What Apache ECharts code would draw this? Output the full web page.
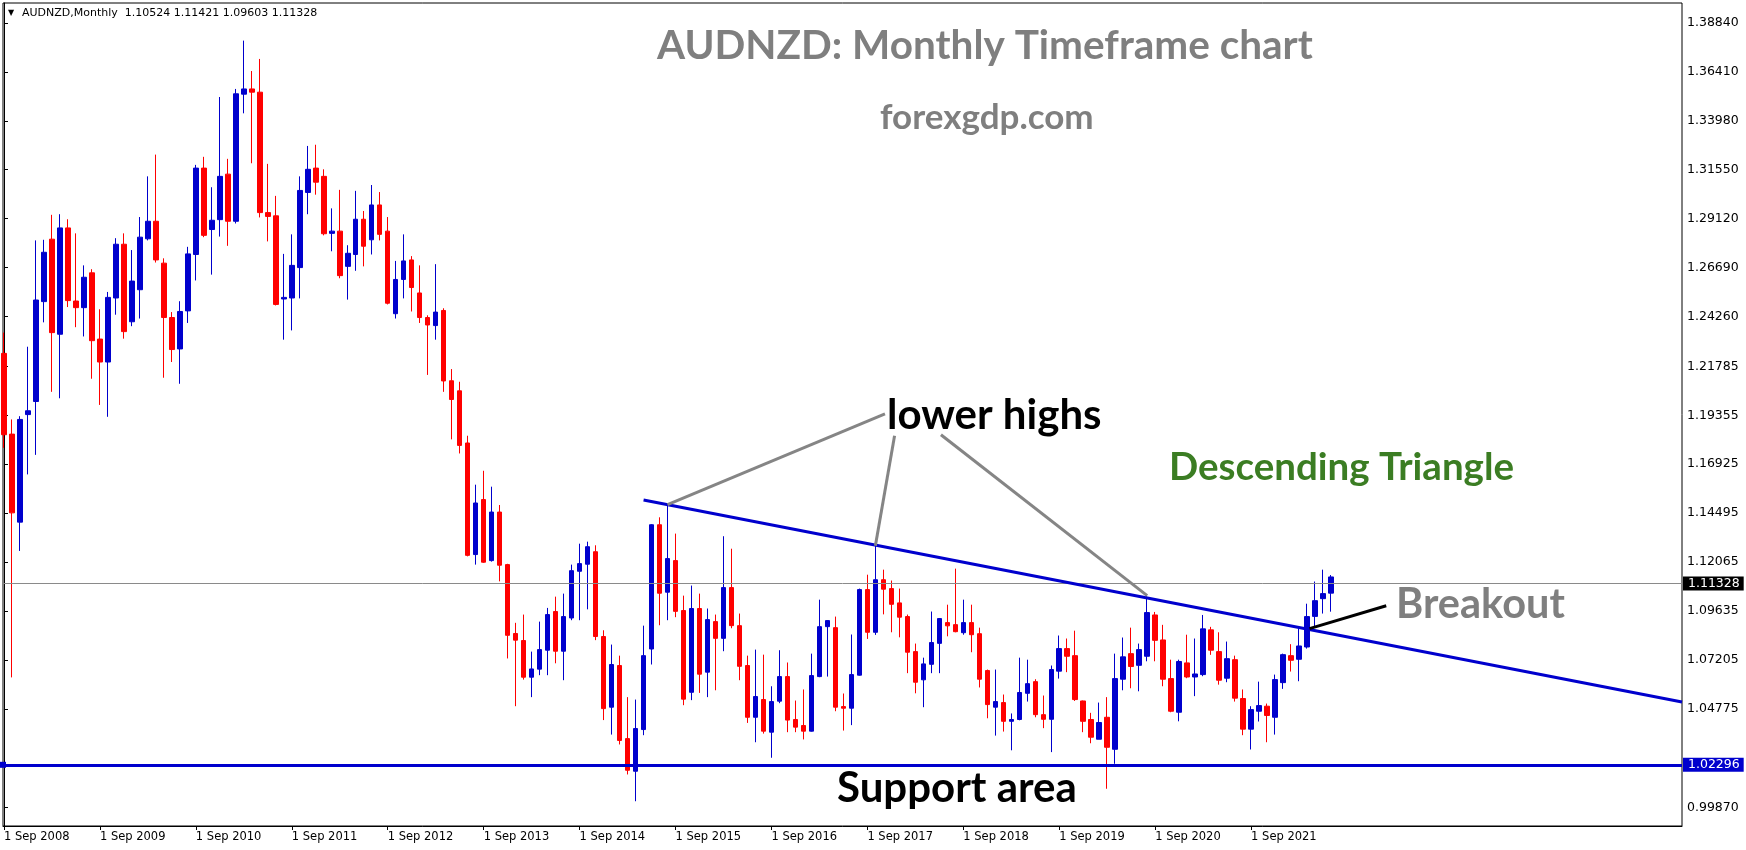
<!DOCTYPE html>
<html>
<head>
<meta charset="utf-8">
<title>AUDNZD Monthly</title>
<script src="https://cdn.jsdelivr.net/npm/echarts@6/dist/echarts.min.js"></script>
<style>
  html, body { margin: 0; padding: 0; background: #fff; }
  #chart { width: 1746px; height: 850px; }
</style>
</head>
<body>
<div id="chart"></div>
<script>
// monthly candles, first one is Sep 2008
var open = [
    1.2243, 1.1842, 1.1405, 1.1939, 1.2004, 1.2500, 1.2810, 1.2338, 1.2866, 1.2503, 1.2470, 1.2643,
    1.2314, 1.2200, 1.2518, 1.2785, 1.2400, 1.2559, 1.2812, 1.2899, 1.2691, 1.2421, 1.2265, 1.2454,
    1.2734, 1.3163, 1.2858, 1.2907, 1.3133, 1.2899, 1.3530, 1.3556, 1.3540, 1.2942, 1.2926, 1.2513,
    1.2518, 1.2669, 1.3042, 1.3163, 1.3122, 1.2839, 1.2850, 1.2675, 1.2734, 1.2909, 1.2807, 1.2980,
    1.2850, 1.2440, 1.2610, 1.2707, 1.2543, 1.2421, 1.2381, 1.2456, 1.2107, 1.2057, 1.1798, 1.1244,
    1.1517, 1.1214, 1.1455, 1.1194, 1.0852, 1.0817, 1.0635, 1.0675, 1.0769, 1.0961, 1.0764, 1.0929,
    1.1161, 1.1196, 1.1258, 1.0837, 1.0486, 1.0693, 1.0330, 1.0168, 1.0375, 1.0775, 1.1392, 1.1057,
    1.1214, 1.0966, 1.0560, 1.0976, 1.0660, 1.0911, 1.0828, 1.1080, 1.0891, 1.0693, 1.0436, 1.0524,
    1.0362, 1.0516, 1.0638, 1.0425, 1.0395, 1.0367, 1.0638, 1.0886, 1.0881, 1.0489, 1.0481, 1.0645,
    1.1070, 1.0858, 1.1119, 1.1075, 1.1004, 1.0936, 1.0762, 1.0622, 1.0699, 1.0803, 1.0906, 1.0896,
    1.0856, 1.0906, 1.0851, 1.0668, 1.0486, 1.0509, 1.0416, 1.0425, 1.0555, 1.0613, 1.0449, 1.0426,
    1.0665, 1.0777, 1.0742, 1.0517, 1.0425, 1.0327, 1.0436, 1.0277, 1.0625, 1.0752, 1.0694, 1.0739,
    1.0944, 1.0820, 1.0628, 1.0461, 1.0706, 1.0636, 1.0648, 1.0870, 1.0762, 1.0630, 1.0722, 1.0529,
    1.0377, 1.0466, 1.0491, 1.0436, 1.0608, 1.0742, 1.0724, 1.0785, 1.0937, 1.1025, 1.10524
];
var high = [
    1.2346, 1.1915, 1.1931, 1.2276, 1.2804, 1.2807, 1.2931, 1.2934, 1.2909, 1.2839, 1.2680, 1.2661,
    1.2462, 1.2548, 1.2815, 1.2839, 1.2756, 1.2920, 1.3122, 1.3230, 1.2715, 1.2448, 1.2502, 1.2772,
    1.3179, 1.3219, 1.3068, 1.3516, 1.3209, 1.3556, 1.3796, 1.3645, 1.3705, 1.3184, 1.3025, 1.2737,
    1.2834, 1.3122, 1.3273, 1.3279, 1.3157, 1.2963, 1.3055, 1.2780, 1.3050, 1.2950, 1.3079, 1.3044,
    1.2920, 1.2702, 1.2834, 1.2726, 1.2680, 1.2432, 1.2686, 1.2467, 1.2165, 1.2102, 1.1834, 1.1591,
    1.1660, 1.1581, 1.1490, 1.1198, 1.0905, 1.0946, 1.0762, 1.0911, 1.0979, 1.1035, 1.1050, 1.1194,
    1.1298, 1.1308, 1.1290, 1.0868, 1.0797, 1.0742, 1.0536, 1.0524, 1.0891, 1.1395, 1.1429, 1.1492,
    1.1348, 1.1040, 1.1090, 1.1050, 1.0976, 1.0946, 1.1335, 1.1273, 1.0951, 1.0742, 1.0772, 1.0747,
    1.0590, 1.0769, 1.0708, 1.0519, 1.0574, 1.0752, 1.1020, 1.0916, 1.0936, 1.0554, 1.0847, 1.1075,
    1.1144, 1.1288, 1.1169, 1.1115, 1.1075, 1.0946, 1.0802, 1.0732, 1.0961, 1.0929, 1.0995, 1.1174,
    1.1020, 1.0995, 1.0881, 1.0673, 1.0673, 1.0549, 1.0455, 1.0732, 1.0722, 1.0625, 1.0544, 1.0693,
    1.0842, 1.0827, 1.0866, 1.0519, 1.0458, 1.0509, 1.0536, 1.0752, 1.0832, 1.0881, 1.0802, 1.1040,
    1.0959, 1.0895, 1.0722, 1.0722, 1.0846, 1.0827, 1.0944, 1.0885, 1.0858, 1.0812, 1.0742, 1.0574,
    1.0491, 1.0613, 1.0504, 1.0648, 1.0752, 1.0799, 1.0876, 1.1000, 1.1110, 1.1169, 1.11421
];
var low = [
    1.1774, 1.0634, 1.1262, 1.1642, 1.1739, 1.2397, 1.2052, 1.2020, 1.2473, 1.2373, 1.2327, 1.2117,
    1.1987, 1.1928, 1.2435, 1.2316, 1.2378, 1.2416, 1.2804, 1.2694, 1.2122, 1.2200, 1.2092, 1.2394,
    1.2605, 1.2820, 1.2634, 1.2823, 1.2777, 1.2888, 1.3435, 1.3187, 1.2918, 1.2799, 1.2481, 1.2311,
    1.2357, 1.2516, 1.2934, 1.3031, 1.2829, 1.2750, 1.2616, 1.2510, 1.2653, 1.2675, 1.2734, 1.2804,
    1.2486, 1.2416, 1.2516, 1.2451, 1.2394, 1.2136, 1.2311, 1.2052, 1.1816, 1.1746, 1.1235, 1.1194,
    1.1203, 1.1209, 1.1111, 1.0728, 1.0491, 1.0623, 1.0536, 1.0645, 1.0645, 1.0704, 1.0620, 1.0918,
    1.0918, 1.0972, 1.0819, 1.0422, 1.0350, 1.0301, 1.0152, 1.0019, 1.0347, 1.0698, 1.0893, 1.0918,
    1.0933, 1.0496, 1.0521, 1.0557, 1.0536, 1.0570, 1.0764, 1.0878, 1.0620, 1.0408, 1.0312, 1.0355,
    1.0235, 1.0506, 1.0362, 1.0362, 1.0326, 1.0365, 1.0635, 1.0638, 1.0466, 1.0370, 1.0397, 1.0643,
    1.0825, 1.0845, 1.0947, 1.0858, 1.0833, 1.0655, 1.0555, 1.0486, 1.0655, 1.0655, 1.0838, 1.0858,
    1.0846, 1.0759, 1.0584, 1.0431, 1.0345, 1.0365, 1.0272, 1.0421, 1.0514, 1.0436, 1.0382, 1.0263,
    1.0628, 1.0660, 1.0517, 1.0362, 1.0307, 1.0327, 1.0081, 1.0205, 1.0570, 1.0580, 1.0565, 1.0714,
    1.0714, 1.0590, 1.0461, 1.0416, 1.0630, 1.0541, 1.0640, 1.0746, 1.0598, 1.0610, 1.0514, 1.0347,
    1.0276, 1.0415, 1.0312, 1.0350, 1.0577, 1.0663, 1.0615, 1.0777, 1.0883, 1.0951, 1.09603
];
var close = [
    1.1839, 1.1451, 1.1915, 1.1958, 1.2508, 1.2745, 1.2346, 1.2866, 1.2505, 1.2470, 1.2621, 1.2306,
    1.2200, 1.2521, 1.2785, 1.2351, 1.2602, 1.2820, 1.2899, 1.2707, 1.2421, 1.2262, 1.2451, 1.2737,
    1.3163, 1.2829, 1.2904, 1.3122, 1.2899, 1.3532, 1.3556, 1.3540, 1.2942, 1.2923, 1.2486, 1.2521,
    1.2680, 1.3052, 1.3157, 1.3093, 1.2837, 1.2850, 1.2629, 1.2740, 1.2909, 1.2775, 1.2980, 1.2834,
    1.2492, 1.2610, 1.2702, 1.2570, 1.2421, 1.2384, 1.2448, 1.2106, 1.2014, 1.1786, 1.1240, 1.1500,
    1.1206, 1.1455, 1.1191, 1.0843, 1.0819, 1.0635, 1.0676, 1.0772, 1.0946, 1.0764, 1.0936, 1.1164,
    1.1199, 1.1283, 1.0837, 1.0479, 1.0698, 1.0321, 1.0173, 1.0380, 1.0742, 1.1392, 1.1052, 1.1224,
    1.0962, 1.0526, 1.0976, 1.0650, 1.0921, 1.0828, 1.1080, 1.0891, 1.0689, 1.0436, 1.0539, 1.0367,
    1.0514, 1.0638, 1.0422, 1.0387, 1.0367, 1.0643, 1.0886, 1.0916, 1.0486, 1.0481, 1.0648, 1.1070,
    1.0858, 1.1119, 1.1072, 1.0997, 1.0933, 1.0759, 1.0610, 1.0701, 1.0807, 1.0926, 1.0890, 1.0861,
    1.0906, 1.0846, 1.0625, 1.0499, 1.0514, 1.0416, 1.0425, 1.0559, 1.0603, 1.0449, 1.0426, 1.0673,
    1.0777, 1.0739, 1.0524, 1.0416, 1.0337, 1.0410, 1.0287, 1.0628, 1.0736, 1.0688, 1.0772, 1.0956,
    1.0818, 1.0625, 1.0466, 1.0713, 1.0636, 1.0651, 1.0875, 1.0769, 1.0620, 1.0727, 1.0531, 1.0377,
    1.0474, 1.0494, 1.0445, 1.0623, 1.0747, 1.0719, 1.0790, 1.0936, 1.1015, 1.1050, 1.11328
];

// axis labels
var xTickLabels = ['1 Sep 2008', '1 Sep 2009', '1 Sep 2010', '1 Sep 2011', '1 Sep 2012', '1 Sep 2013', '1 Sep 2014',
    '1 Sep 2015', '1 Sep 2016', '1 Sep 2017', '1 Sep 2018', '1 Sep 2019', '1 Sep 2020', '1 Sep 2021'];
var yTickLabels = ['1.38840', '1.36410', '1.33980', '1.31550', '1.29120', '1.26690', '1.24260', '1.21785',
    '1.19355', '1.16925', '1.14495', '1.12065', '1.09635', '1.07205', '1.04775', '0.99870'];

// drawn objects (month index, price)
var lastPrice = 1.11328;
var supportLevel = 1.02296;
var trendLine = [[80, 1.1515], [209.9, 1.0512]];
var pointerLines = [
    [[110.2, 1.1943], [83, 1.1492]],
    [[111.4, 1.1834], [109, 1.1288]],
    [[117.2, 1.1839], [143, 1.1040]]
];
var breakoutLine = [[163.3, 1.0876], [172.9, 1.0990]];

var axisFont = 'DejaVu Sans';
var noteFont = 'Lato';

var candles = open.map(function(o, i) {
    return [i, o, close[i], low[i], high[i]];
});
var xTickIdx = xTickLabels.map(function(s, i) { return i * 12; });
var yTickVals = yTickLabels.map(function(s) { return parseFloat(s); });

function segment(pts, color, width) {
    return [
        { coord: pts[0], lineStyle: { color: color, width: width, type: 'solid' }, label: { show: false } },
        { coord: pts[1] }
    ];
}

var myChart = echarts.init(document.getElementById('chart'));

var markData = [
    {
        yAxis: lastPrice,
        lineStyle: { color: '#8a8a8a', width: 1, type: 'solid' },
        label: {
            show: true, position: 'end', distance: 1, formatter: '1.11328',
            backgroundColor: '#000', color: '#fff', padding: [1, 4, 0, 5],
            fontFamily: axisFont, fontSize: 12.5
        }
    },
    {
        yAxis: supportLevel,
        symbol: ['rect', 'rect'],
        symbolSize: 6,
        lineStyle: { color: '#0000cd', width: 3, type: 'solid' },
        label: {
            show: true, position: 'end', distance: 1, formatter: '1.02296',
            backgroundColor: '#0000cd', color: '#fff', padding: [1, 4, 0, 5],
            fontFamily: axisFont, fontSize: 12.5
        }
    },
    segment(trendLine, '#0000cd', 3)
];
pointerLines.forEach(function(p) {
    markData.push(segment(p, '#858585', 3));
});
markData.push(segment(breakoutLine, '#000', 3));

var option = {
    animation: false,
    backgroundColor: '#fff',
    grid: {
        left: 3, right: 64, top: 3, bottom: 24,
        show: true, borderColor: '#000', borderWidth: 1, backgroundColor: '#fff'
    },
    xAxis: {
        type: 'value',
        min: -0.125,
        max: 209.9,
        axisLine: { show: true, lineStyle: { color: '#000' } },
        axisTick: { show: true, customValues: xTickIdx, length: 4, lineStyle: { color: '#000' } },
        axisLabel: {
            customValues: xTickIdx,
            formatter: function(v) { return xTickLabels[Math.round(v / 12)]; },
            align: 'left', margin: 5, color: '#000',
            fontFamily: axisFont, fontSize: 11.5
        },
        splitLine: { show: false }
    },
    yAxis: {
        type: 'value',
        position: 'right',
        min: 0.98961,
        max: 1.39828,
        axisLine: { show: true, lineStyle: { color: '#000' } },
        axisTick: { show: true, customValues: yTickVals, length: 4, lineStyle: { color: '#000' } },
        axisLabel: {
            customValues: yTickVals,
            formatter: function(v) { return v.toFixed(5); },
            margin: 5, color: '#000',
            fontFamily: axisFont, fontSize: 12.5
        },
        splitLine: { show: false }
    },
    series: [{
        type: 'candlestick',
        data: candles,
        barWidth: 5,
        itemStyle: {
            color: '#0000cd', borderColor: '#0000cd',
            color0: '#ff0000', borderColor0: '#ff0000',
            borderWidth: 1
        },
        markLine: {
            silent: true,
            symbol: 'none',
            data: markData
        }
    }],
    graphic: [
        { type: 'text', x: 8, y: 13, style: { text: '▼', fill: '#000', fontSize: 8, fontFamily: axisFont, verticalAlign: 'middle' } },
        { type: 'text', x: 22, y: 13, style: { text: 'AUDNZD,Monthly  1.10524 1.11421 1.09603 1.11328', fill: '#000', fontSize: 11, fontFamily: axisFont, verticalAlign: 'middle' } },
        { type: 'text', x: 657, y: 46, style: { text: 'AUDNZD: Monthly Timeframe chart', fill: '#7f7f7f', fontSize: 40.5, fontWeight: 'bold', fontFamily: noteFont, verticalAlign: 'middle' } },
        { type: 'text', x: 880, y: 118, style: { text: 'forexgdp.com', fill: '#7f7f7f', fontSize: 35, fontWeight: 'bold', fontFamily: noteFont, verticalAlign: 'middle' } },
        { type: 'text', x: 887, y: 415, style: { text: 'lower highs', fill: '#000', fontSize: 42, fontWeight: 'bold', fontFamily: noteFont, verticalAlign: 'middle' } },
        { type: 'text', x: 1169, y: 468, style: { text: 'Descending Triangle', fill: '#3b7d23', fontSize: 38.5, fontWeight: 'bold', fontFamily: noteFont, verticalAlign: 'middle' } },
        { type: 'text', x: 1396, y: 605, style: { text: 'Breakout', fill: '#7f7f7f', fontSize: 41.5, fontWeight: 'bold', fontFamily: noteFont, verticalAlign: 'middle' } },
        { type: 'text', x: 837, y: 788, style: { text: 'Support area', fill: '#000', fontSize: 42, fontWeight: 'bold', fontFamily: noteFont, verticalAlign: 'middle' } }
    ]
};

myChart.setOption(option);
</script>
</body>
</html>
